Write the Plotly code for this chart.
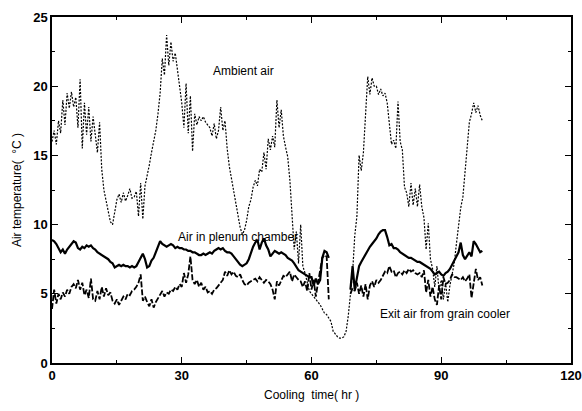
import numpy as np
import plotly.graph_objects as go

# time grid: 0.5 h steps
t = np.arange(0, 100, 0.5)

ambient = [
    16.0, 16.8, 15.8, 17.5, 16.6, 19.0, 17.2, 19.5, 18.4, 19.6,
    18.5, 19.2, 17.0, 20.5, 15.5, 18.8, 16.5, 18.5, 16.0, 17.8,
    16.5, 15.2, 17.4, 14.0, 12.5, 11.8, 11.0, 10.2, 10.0, 11.0,
    11.8, 12.2, 11.6, 12.3, 11.7, 12.1, 12.6, 11.9, 12.0, 12.4,
    10.6, 13.0, 10.4, 12.8, 13.5, 14.3, 15.2, 15.9, 16.8, 18.0,
    19.5, 22.0, 20.8, 23.7, 21.5, 23.2, 21.8, 22.4, 21.2, 20.3,
    18.8, 17.0, 20.2, 16.6, 19.3, 15.3, 18.0, 17.2, 17.8, 17.5,
    17.8, 17.4, 17.2, 17.0, 16.4, 17.3, 16.2, 16.8, 18.5, 16.8,
    17.5, 15.5, 14.2, 13.3, 12.3, 11.4, 10.6, 9.8, 9.3, 9.6,
    10.3, 11.3, 11.8, 12.7, 13.2, 12.8, 14.0, 13.8, 15.2, 14.0,
    16.2, 15.4, 16.4, 15.6, 19.0, 17.0, 18.3, 16.4, 15.6, 14.9,
    13.2, 11.0, 8.2, 9.5, 7.2, 10.0, 7.0, 6.5, 5.8, 5.2,
    5.0, 4.8, 4.6, 4.4, 4.2, 3.9, 3.6, 3.5, 3.2, 3.0,
    2.3, 2.1, 1.9, 1.8, 1.8, 1.9, 2.3, 3.4, 4.8, 6.5,
    9.2, 10.6, 15.0, 13.9, 15.2, 18.0, 20.7, 19.4, 20.6, 20.0,
    20.0, 19.4, 19.8, 19.3, 19.5, 18.8, 17.0, 15.8, 16.1, 15.5,
    18.9, 16.0, 15.4, 12.7, 12.3, 11.3, 13.0, 11.4, 12.6, 11.3,
    12.9, 11.3, 10.5, 8.2, 10.1, 7.5, 6.8, 5.5, 7.0, 5.2,
    6.0, 4.6, 5.8, 4.4, 5.6, 6.3, 7.2, 8.6, 10.0, 11.2,
    12.0, 13.8, 15.4, 17.4, 18.0, 18.8, 18.1, 18.6, 17.9, 17.5,
]

plenum = [
    8.9, 8.8, 8.6, 8.3, 8.0, 8.2, 7.9, 8.2, 8.4, 8.6,
    8.8, 8.7, 8.3, 8.2, 8.4, 8.3, 8.5, 8.4, 8.5, 8.3,
    8.2, 8.0, 7.9, 7.8, 7.7, 7.6, 7.5, 7.3, 7.2, 6.9,
    7.0, 7.1, 7.0, 7.1, 7.0, 7.0, 6.9, 7.0, 6.9, 7.0,
    7.3, 7.6, 7.9, 7.5, 6.9, 7.0, 7.4, 7.6, 8.0, 8.4,
    8.8, 8.6, 8.5, 8.4, 8.5, 8.6, 8.5, 8.3, 8.4, 8.3,
    8.3, 8.2, 8.2, 8.1, 8.1, 8.0, 8.0, 7.9, 7.8, 7.8,
    7.9, 7.8, 7.9, 8.0, 7.9, 8.1, 8.2, 8.3, 8.2, 8.3,
    8.1, 8.0, 8.0, 7.9, 7.7, 7.5, 7.3, 7.1, 7.0, 7.1,
    7.2, 7.5, 8.0, 8.4, 8.7, 8.9, 8.2, 8.7, 9.0, 8.5,
    8.2, 7.7, 7.9, 8.1, 8.0, 7.9, 8.0, 7.9, 7.8, 7.6,
    7.5, 7.4, 7.2, 6.9, 6.7, 6.6, 6.5, 6.4, 6.3, 6.2,
    6.2, 5.6, 6.1, 5.7, 6.0, 7.6, 8.1, 8.0, 7.6, None,
    None, None, None, None, None, None, None, None, 5.3, 7.0,
    5.3, 6.2, 7.0, 7.3, 7.6, 7.8, 8.1, 8.4, 8.6, 8.8,
    9.0, 9.3, 9.5, 9.6, 9.6, 9.1, 8.5, 8.6, 8.3, 8.3,
    8.2, 8.0, 7.9, 7.8, 7.7, 7.6, 7.6, 7.5, 7.4, 7.3,
    7.3, 7.2, 7.1, 7.0, 6.9, 6.8, 6.6, 6.4, 6.5, 6.6,
    6.4, 6.3, 6.5, 6.6, 6.8, 7.1, 7.3, 7.7, 8.0, 8.7,
    7.8, 7.5, 7.8, 8.0, 7.7, 8.8, 8.6, 8.3, 8.0, 8.1,
]

exit_air = [
    3.9, 5.3, 4.3, 5.0, 4.6, 5.1, 4.8, 5.3, 5.0, 5.5,
    5.7, 5.4, 6.0, 5.3, 5.8, 4.9, 5.3, 4.7, 6.1, 4.6,
    4.5, 5.2, 4.6, 5.5, 4.8, 5.4, 4.9, 5.1, 4.5, 4.3,
    4.6, 4.2, 4.5, 4.8, 4.6, 5.0, 4.9, 5.2, 5.3, 5.5,
    5.8, 6.4, 4.5, 4.8, 4.4, 4.1, 4.6, 4.0, 4.4, 4.7,
    5.0, 5.2, 4.8, 5.1, 5.0, 5.3, 5.2, 5.5, 5.3, 5.7,
    5.5, 6.5, 5.8, 6.4, 7.7, 6.0, 5.7, 6.0, 5.5, 5.8,
    5.3, 5.5, 5.1, 5.2, 5.0, 5.3, 5.4, 5.6, 5.8, 6.0,
    6.6, 6.3, 6.7, 6.4, 6.6, 6.3, 6.2, 6.4, 6.0, 5.7,
    5.6, 5.8, 5.9, 6.0, 6.1, 5.9, 6.2, 6.0, 5.8, 6.0,
    5.9, 5.7, 5.3, 4.6, 5.9, 5.6, 6.0, 6.3, 6.2, 6.4,
    6.6, 5.9, 6.4, 6.2, 6.0, 5.9, 5.5, 5.9, 5.2, 6.5,
    5.3, 6.0, 4.8, 5.8, 6.8, 7.6, 7.8, 7.7, 4.6, None,
    None, None, None, None, None, None, None, None, 5.0, 5.4,
    5.2, 5.8, 5.0, 5.6, 4.8, 5.7, 4.6, 5.6, 5.9, 5.5,
    6.0, 5.8, 6.0, 6.3, 6.6, 6.5, 7.0, 6.6, 6.7, 6.2,
    6.5, 6.6, 6.4, 6.7, 6.5, 6.8, 6.6, 6.7, 6.5, 6.4,
    6.5, 6.2, 6.7, 5.1, 6.0, 4.8, 5.5, 4.6, 4.2, 5.6,
    4.6, 6.2, 5.7, 5.8, 6.0, 6.4, 6.2, 6.2, 6.1, 6.0,
    6.2, 5.9, 6.1, 6.4, 4.7, 5.9, 6.8, 6.0, 6.2, 5.6,
]

x_ticks = [0, 30, 60, 90, 120]
y_ticks = [0, 5, 10, 15, 20, 25]

FONT = "Liberation Sans, Arial, sans-serif"

fig = go.Figure()
fig.add_trace(go.Scatter(x=t, y=ambient, mode="lines", name="Ambient air",
                         line=dict(color="black", width=1.2, dash="2px,1.5px"),
                         connectgaps=False))
fig.add_trace(go.Scatter(x=t, y=plenum, mode="lines", name="Air in plenum chamber",
                         line=dict(color="black", width=2.2), connectgaps=False))
fig.add_trace(go.Scatter(x=t, y=exit_air, mode="lines", name="Exit air from grain cooler",
                         line=dict(color="black", width=1.8, dash="6px,2px"),
                         connectgaps=False))

fig.add_annotation(x=44.3, y=21.1, text="Ambient air", showarrow=False,
                   font=dict(size=12, family=FONT, color="black"))
fig.add_annotation(x=43.0, y=9.1, text="Air in plenum chamber", showarrow=False,
                   font=dict(size=12, family=FONT, color="black"))
fig.add_annotation(x=90.8, y=3.55, text="Exit air from grain cooler", showarrow=False,
                   font=dict(size=12, family=FONT, color="black"))

# axis titles as paper annotations
fig.add_annotation(xref="paper", yref="paper", x=0.5, y=-0.066, yanchor="top",
                   text="Cooling  time( hr )", showarrow=False,
                   font=dict(size=12, family=FONT, color="black"))
fig.add_annotation(xref="paper", yref="paper", x=-0.05, y=0.5, xanchor="right",
                   text="Air temperature(  °C )", showarrow=False, textangle=-90,
                   font=dict(size=12, family=FONT, color="black"))

axis_common = dict(showgrid=False, zeroline=False, showline=True, linecolor="black",
                   linewidth=1.5, mirror="ticks", ticks="inside", ticklen=6,
                   tickcolor="black", tickwidth=1.2, automargin=False,
                   tickfont=dict(size=13, family=FONT, color="black", weight="bold"))

fig.update_xaxes(range=[0, 120], tickvals=x_ticks, ticktext=[str(v) for v in x_ticks],
                 minor=dict(ticks="inside", ticklen=3, dtick=15, tickcolor="black"),
                 **axis_common)
fig.update_yaxes(range=[0, 25], tickvals=y_ticks, ticktext=[str(v) for v in y_ticks],
                 minor=dict(ticks="inside", ticklen=3, dtick=2.5, tickcolor="black"),
                 **axis_common)

fig.update_layout(width=582, height=411, showlegend=False,
                  plot_bgcolor="white", paper_bgcolor="white",
                  margin=dict(l=52, r=11, t=17, b=48))

# remove the page's default body margin so the figure fills the window exactly
fig.write_html("out.html", config={"displayModeBar": False},
               post_script="document.body.style.margin='0';document.body.style.overflow='hidden';")
